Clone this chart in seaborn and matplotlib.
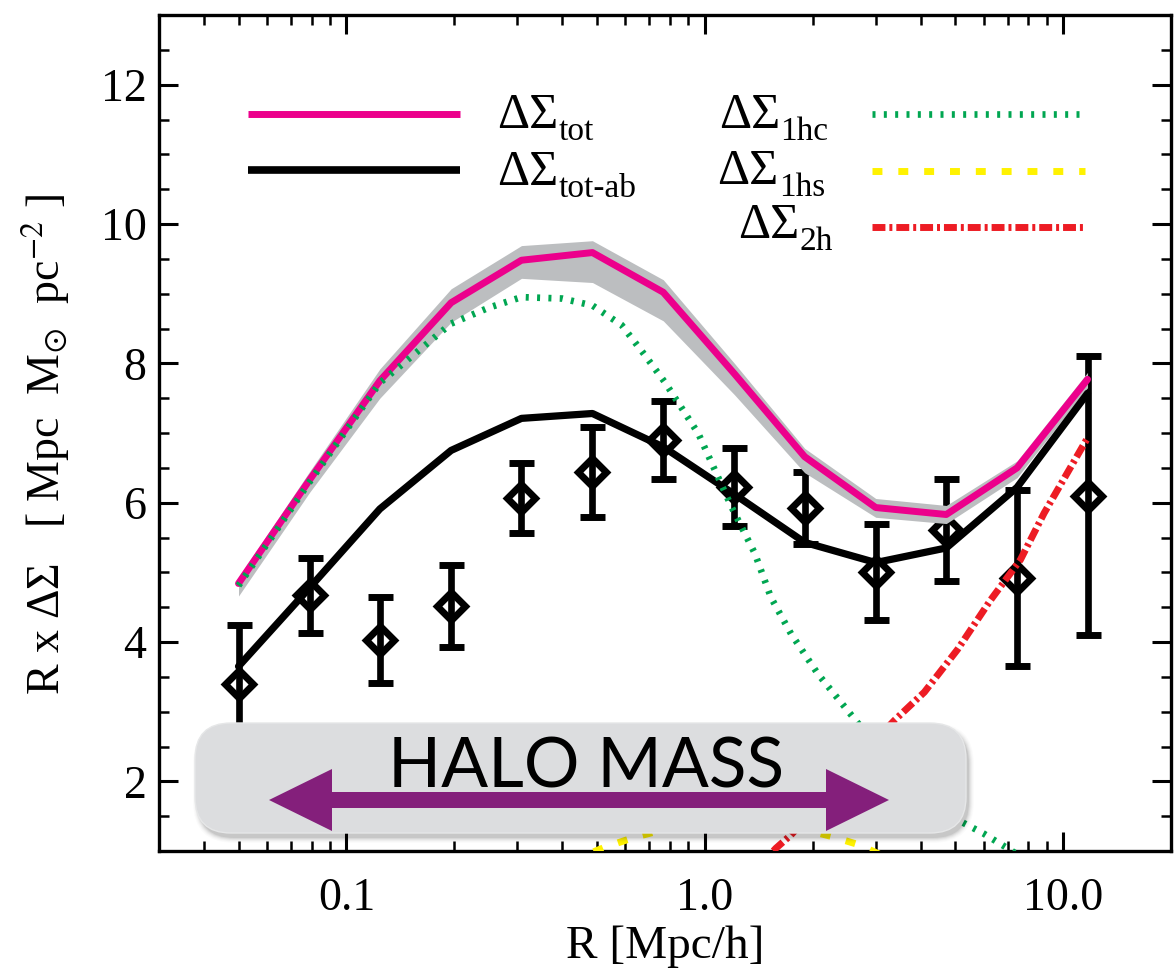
import numpy as np
import matplotlib
matplotlib.use("Agg")
import matplotlib.pyplot as plt
import seaborn as sns
from matplotlib.patches import FancyBboxPatch, Polygon
from matplotlib.ticker import (FixedLocator, FixedFormatter, LogLocator,
                               NullFormatter, MultipleLocator)

# ---------------------------------------------------------------- data
# projected radius bins [Mpc/h]
r_bins = [0.050, 0.079, 0.124, 0.196, 0.308, 0.486, 0.766, 1.21, 1.90, 3.00, 4.72, 7.44, 11.7]

# measured R x DeltaSigma with 1-sigma errors
obs_signal = [3.40, 4.67, 4.03, 4.52, 6.07, 6.44, 6.90, 6.22, 5.92, 5.00, 5.61, 4.92, 6.10]
obs_error = [0.84, 0.54, 0.62, 0.59, 0.50, 0.65, 0.56, 0.56, 0.52, 0.69, 0.73, 1.26, 2.00]

# total model, its spread, and the assembly-bias model
model_tot = [4.84, 6.33, 7.75, 8.87, 9.48, 9.59, 9.02, 7.85, 6.66, 5.93, 5.83, 6.50, 7.77]
model_tot_hi = [4.93, 6.45, 7.92, 9.07, 9.69, 9.76, 9.20, 8.00, 6.78, 6.06, 5.96, 6.60, 7.87]
model_tot_lo = [4.66, 6.15, 7.50, 8.59, 9.22, 9.16, 8.61, 7.55, 6.43, 5.79, 5.70, 6.36, 7.65]
model_tot_ab = [3.65, 4.78, 5.91, 6.75, 7.21, 7.28, 6.80, 6.12, 5.43, 5.14, 5.35, 6.22, 7.57]

# one-halo central term
r_1hc = [0.050, 0.079, 0.124, 0.196, 0.25, 0.308, 0.40, 0.486, 0.586, 0.68, 0.776,
         0.96, 1.19, 1.38, 1.53, 1.74, 2.07, 2.67, 3.3, 4.0, 4.98, 6.0, 6.99, 8.0]
sig_1hc = [4.81, 6.30, 7.72, 8.57, 8.80, 8.95, 8.93, 8.83, 8.55, 8.12, 7.72,
           6.99, 5.93, 5.27, 4.64, 4.12, 3.54, 2.84, 2.30, 1.85, 1.47, 1.25, 1.04, 0.85]

# one-halo satellite term
r_1hs = [0.42, 0.53, 0.64, 0.80, 1.0, 1.2, 1.45, 1.8, 2.29, 2.69, 3.3]
sig_1hs = [0.85, 1.06, 1.20, 1.33, 1.40, 1.43, 1.41, 1.34, 1.20, 1.09, 0.88]

# two-halo term
r_2h = [1.40, 1.58, 1.74, 2.2, 2.7, 3.39, 4.10, 5.07, 6.27, 7.6, 8.85, 11.7]
sig_2h = [0.75, 1.04, 1.23, 1.80, 2.35, 2.88, 3.28, 3.89, 4.60, 5.18, 5.85, 6.93]

x_major = [0.1, 1.0, 10.0]
x_major_labels = ["0.1", "1.0", "10.0"]

# ---------------------------------------------------------------- style
PINK = "#EC008C"
GREEN = "#00A651"
YELLOW = "#FFF200"
RED = "#ED1C24"
BAND = "#BCBEC0"
PURPLE = "#841F7B"
BOX = "#DCDDDF"

sns.set_theme(style="ticks")
plt.rcParams["font.family"] = ["Liberation Serif", "DejaVu Serif"]
plt.rcParams["mathtext.fontset"] = "stix"
plt.rcParams["axes.linewidth"] = 2.4
for key in ["text.color", "axes.labelcolor", "xtick.color", "ytick.color",
            "axes.edgecolor"]:
    plt.rcParams[key] = "black"

W, H = 1174, 972
fig = plt.figure(figsize=(W / 100, H / 100), dpi=100)
ax = fig.add_axes([159 / W, 1 - 851 / H, 1012 / W, 836 / H])
ax.set_xscale("log")
ax.set_xlim(0.03, 20)
ax.set_ylim(1, 13)

# measurements
ax.errorbar(r_bins, obs_signal, yerr=obs_error, fmt="D", ms=14, mfc="none",
            mec="black", mew=5, ecolor="black", elinewidth=4.8,
            capsize=9, capthick=4.2, zorder=2)

# model spread
ax.fill_between(r_bins, model_tot_lo, model_tot_hi, color=BAND, lw=0, zorder=3)

sns.lineplot(x=r_bins, y=model_tot, ax=ax, color=PINK, lw=5, zorder=4,
             estimator=None, sort=False)
sns.lineplot(x=r_bins, y=model_tot_ab, ax=ax, color="black", lw=5.2, zorder=5,
             estimator=None, sort=False)

dot_style = (0, (0.45, 1.25))
dash_style = (0, (1.43, 2.29))
dashdot_style = (0, (1.86, 0.57, 0.43, 0.57))

sns.lineplot(x=r_1hc, y=sig_1hc, ax=ax, color=GREEN, lw=4.8, zorder=6,
             linestyle=dot_style, dash_capstyle="butt", estimator=None, sort=False)
sns.lineplot(x=r_1hs, y=sig_1hs, ax=ax, color=YELLOW, lw=5, zorder=6,
             linestyle=dash_style, dash_capstyle="butt", estimator=None, sort=False)
sns.lineplot(x=r_2h, y=sig_2h, ax=ax, color=RED, lw=5, zorder=6,
             linestyle=dashdot_style, dash_capstyle="butt", estimator=None, sort=False)

# axes decoration
ax.xaxis.set_major_locator(FixedLocator(x_major))
ax.xaxis.set_major_formatter(FixedFormatter(x_major_labels))
ax.xaxis.set_minor_locator(LogLocator(base=10, subs=np.arange(2, 10), numticks=30))
ax.xaxis.set_minor_formatter(NullFormatter())
ax.yaxis.set_major_locator(MultipleLocator(2))
ax.yaxis.set_minor_locator(MultipleLocator(0.5))

ax.tick_params(which="both", direction="in", top=True, right=True, colors="black")
ax.tick_params(which="major", length=13.5, width=2.2, labelsize=33)
ax.tick_params(which="minor", length=7, width=1.8)
ax.tick_params(axis="x", which="major", pad=19)
ax.tick_params(axis="y", which="major", pad=9)
for s in ax.spines.values():
    s.set_color("black")
    s.set_linewidth(2.4)

ax.set_xlabel("R [Mpc/h]", fontsize=34, labelpad=4, color="black")
ax.set_ylabel(r"R x ΔΣ   [ Mpc  M$_{\odot}$  pc$^{-2}$ ]", fontsize=33, color="black")
ax.yaxis.set_label_coords(-0.086, 0.486)

# ---------------------------------------------------------------- overlay (pixel coordinates)
ov = fig.add_axes([0, 0, 1, 1], zorder=10)
ov.set_xlim(0, W)
ov.set_ylim(H, 0)
ov.axis("off")
ov.patch.set_alpha(0)

# HALO MASS panel with soft shadow
bx, by, bw, bh, rr = 195, 723, 771, 110, 36
for i, a in enumerate([0.07, 0.05, 0.04, 0.03, 0.02, 0.015]):
    ov.add_patch(FancyBboxPatch((bx + 3 - i, by + 5 - i), bw + 2 * i, bh + 2 * i,
                                boxstyle=f"round,pad=0,rounding_size={rr + i}",
                                fc="black", ec="none", alpha=a))
ov.add_patch(FancyBboxPatch((bx, by), bw, bh,
                            boxstyle=f"round,pad=0,rounding_size={rr}",
                            fc=BOX, ec="#E6E7E8", lw=1))
ov.text(586, 787, "HALO MASS", ha="center", va="baseline", fontsize=50,
        family=["Lato", "DejaVu Sans"], color="black")

# double-headed arrow
ay, xl, xr, head, hw, sw = 800, 269, 889, 63, 31, 8
arrow = [(xl, ay), (xl + head, ay - hw), (xl + head, ay - sw), (xr - head, ay - sw),
         (xr - head, ay - hw), (xr, ay), (xr - head, ay + hw), (xr - head, ay + sw),
         (xl + head, ay + sw), (xl + head, ay + hw)]
ov.add_patch(Polygon(arrow, closed=True, fc=PURPLE, ec="none"))

# legend
ov.plot([248, 460], [114, 114], color=PINK, lw=5, solid_capstyle="butt")
ov.plot([248, 460], [170, 170], color="black", lw=5.5, solid_capstyle="butt")
ov.plot([872, 1085], [114, 114], color=GREEN, lw=4.8, linestyle=dot_style,
        dash_capstyle="butt")
ov.plot([872, 1085], [171, 171], color=YELLOW, lw=5, linestyle=dash_style,
        dash_capstyle="butt")
ov.plot([872, 1085], [227, 227], color=RED, lw=5, linestyle=dashdot_style,
        dash_capstyle="butt")

MAIN, SUB, DROP = 36, 24, 12
fig.canvas.draw()
renderer = fig.canvas.get_renderer()

for base, sub in [(128, "tot"), (185, "tot-ab")]:
    t = ov.text(497, base, "ΔΣ", ha="left", va="baseline", fontsize=MAIN)
    fig.canvas.draw()
    bb = t.get_window_extent(renderer)
    ov.text(bb.x1, base + DROP, sub, ha="left", va="baseline", fontsize=SUB)

for base, right, sub in [(128, 828, "1hc"), (184, 825, "1hs"), (238, 833, "2h")]:
    s = ov.text(right, base + DROP, sub, ha="right", va="baseline", fontsize=SUB)
    fig.canvas.draw()
    bb = s.get_window_extent(renderer)
    ov.text(bb.x0, base, "ΔΣ", ha="right", va="baseline", fontsize=MAIN)

fig.savefig("out.png", dpi=100)
